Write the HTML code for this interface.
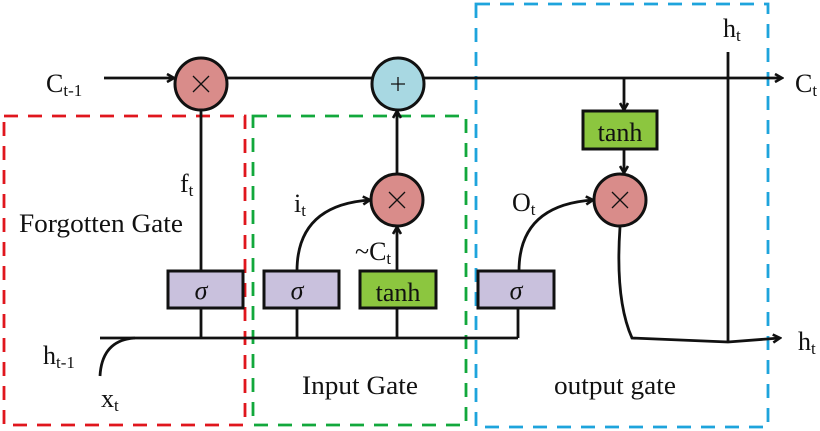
<!DOCTYPE html>
<html><head><meta charset="utf-8"><style>body{margin:0;background:#fff}svg{display:block}text{font-family:"Liberation Serif",serif;fill:#111}</style></head><body>
<svg width="820" height="431" viewBox="0 0 820 431" xmlns="http://www.w3.org/2000/svg">
<defs><marker id="a" markerWidth="10" markerHeight="10" refX="8" refY="5" orient="auto" markerUnits="userSpaceOnUse"><path d="M1,1 L8,5 L1,9" fill="none" stroke="#111" stroke-width="2.6"/></marker></defs>
<g fill="none" stroke-width="2.8" stroke-dasharray="14,10">
<rect x="4" y="116" width="241" height="309" stroke="#e0161d"/>
<rect x="253" y="116" width="213" height="309" stroke="#12a83c"/>
<rect x="476" y="4" width="292" height="423" stroke="#1ea4dc"/>
</g>
<g stroke="#111" stroke-width="2.8" fill="none">
<line x1="104" y1="78" x2="174" y2="78" marker-end="url(#a)"/>
<line x1="227" y1="78" x2="373" y2="78"/>
<line x1="424" y1="78" x2="782" y2="78" marker-end="url(#a)"/>
<line x1="201" y1="110" x2="201" y2="271"/>
<line x1="397" y1="174" x2="397" y2="111" marker-end="url(#a)"/>
<line x1="397" y1="271" x2="397" y2="227" marker-end="url(#a)"/>
<line x1="624" y1="78" x2="624" y2="110" marker-end="url(#a)"/>
<line x1="624" y1="149" x2="624" y2="173" marker-end="url(#a)"/>
<line x1="100" y1="338" x2="518" y2="338"/>
<line x1="201" y1="308" x2="201" y2="338"/>
<line x1="297" y1="308" x2="297" y2="338"/>
<line x1="397" y1="308" x2="397" y2="338"/>
<line x1="518" y1="308" x2="518" y2="338"/>
<path d="M100,376 Q102,340 135,338"/>
<path d="M297,271 Q297,205 370,200" marker-end="url(#a)"/>
<path d="M519,271 Q519,205 593,200" marker-end="url(#a)"/>
<line x1="728" y1="52" x2="728" y2="342"/>
<path d="M620,227 Q615,300 632,338 L728,342 L780,338" marker-end="url(#a)"/>
</g>
<g stroke="#111" stroke-width="3">
<circle cx="201" cy="84" r="26" fill="#d98c8a"/>
<circle cx="398" cy="84" r="26" fill="#a8d8e2"/>
<circle cx="397" cy="200" r="26" fill="#d98c8a"/>
<circle cx="620" cy="200" r="26" fill="#d98c8a"/>
<rect x="168" y="271" width="75" height="37" fill="#c9c1dd"/>
<rect x="264" y="271" width="75" height="37" fill="#c9c1dd"/>
<rect x="360" y="271" width="76" height="37" fill="#8cc63f"/>
<rect x="478" y="271" width="76" height="37" fill="#c9c1dd"/>
<rect x="583" y="111" width="74" height="38" fill="#8cc63f"/>
</g>
<g stroke="#111" stroke-width="1.3">
<path d="M193,76 L209,92 M209,76 L193,92"/>
<path d="M389,192 L405,208 M405,192 L389,208"/>
<path d="M612,192 L628,208 M628,192 L612,208"/>
<path d="M398,77 V91 M391,84 H405"/>
</g>
<g font-size="26" text-anchor="middle">
<text x="201" y="299" font-style="italic">σ</text>
<text x="297" y="299" font-style="italic">σ</text>
<text x="516" y="299" font-style="italic">σ</text>
<text x="398" y="301" font-size="26">tanh</text>
<text x="620" y="141" font-size="26">tanh</text>
</g>
<g font-size="26">
<text x="46" y="92">C<tspan font-size="17" dy="4">t-1</tspan></text>
<text x="180" y="192">f<tspan font-size="17" dy="4">t</tspan></text>
<text x="19" y="232" textLength="164" lengthAdjust="spacingAndGlyphs">Forgotten Gate</text>
<text x="294" y="212">i<tspan font-size="17" dy="4">t</tspan></text>
<text x="355" y="260">~C<tspan font-size="17" dy="4">t</tspan></text>
<text x="43" y="364">h<tspan font-size="17" dy="4">t-1</tspan></text>
<text x="101" y="407">x<tspan font-size="17" dy="4">t</tspan></text>
<text x="302" y="394" textLength="116" lengthAdjust="spacingAndGlyphs">Input Gate</text>
<text x="554" y="394" textLength="122" lengthAdjust="spacingAndGlyphs">output gate</text>
<text x="512" y="211">O<tspan font-size="17" dy="4">t</tspan></text>
<text x="723" y="37">h<tspan font-size="17" dy="4">t</tspan></text>
<text x="795" y="92">C<tspan font-size="17" dy="4">t</tspan></text>
<text x="798" y="350">h<tspan font-size="17" dy="4">t</tspan></text>
</g>
</svg>
</body></html>
